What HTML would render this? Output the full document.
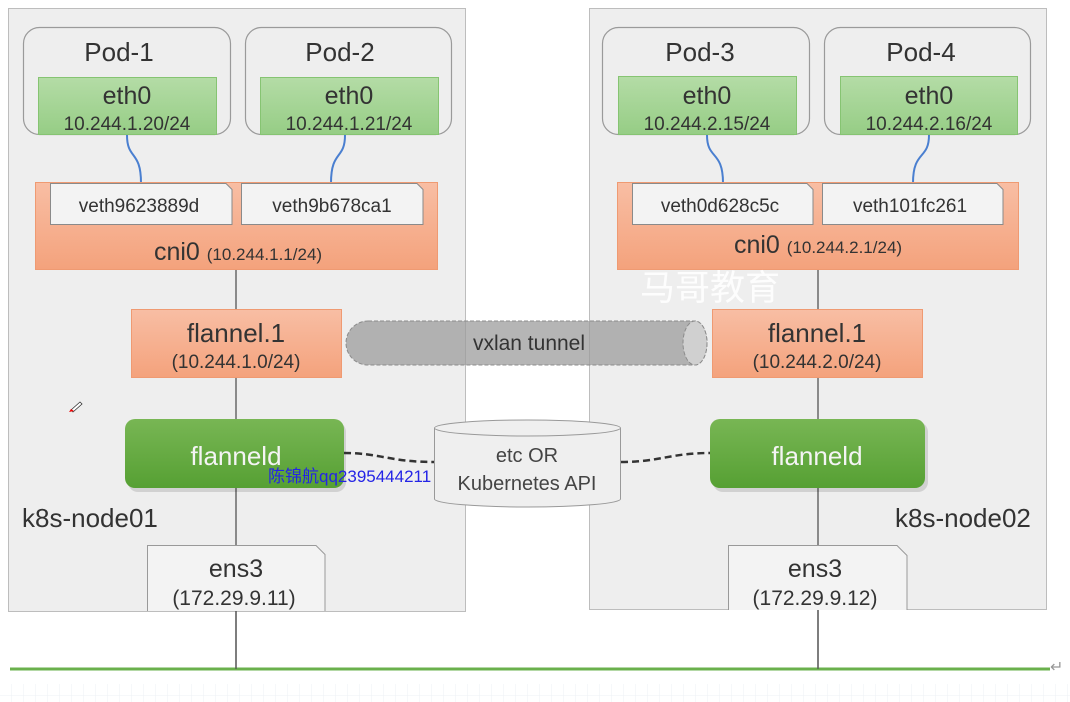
<!DOCTYPE html>
<html><head><meta charset="utf-8"><style>
html,body{margin:0;padding:0;background:#fff;width:1070px;height:702px;overflow:hidden}
svg text{font-family:"Liberation Sans","Noto Sans CJK SC",sans-serif}
</style></head><body>
<svg width="1070" height="702" viewBox="0 0 1070 702" xmlns="http://www.w3.org/2000/svg">
<defs>
<linearGradient id="og" x1="0" y1="0" x2="0" y2="1"><stop offset="0" stop-color="#f8bea4"/><stop offset="1" stop-color="#f4a27c"/></linearGradient>
<linearGradient id="gg" x1="0" y1="0" x2="0" y2="1"><stop offset="0" stop-color="#b4dca6"/><stop offset="1" stop-color="#96cd85"/></linearGradient>
<linearGradient id="fg" x1="0" y1="0" x2="0" y2="1"><stop offset="0" stop-color="#78b654"/><stop offset="1" stop-color="#56a033"/></linearGradient>
<pattern id="grid" width="12" height="12" patternUnits="userSpaceOnUse"><path d="M12 0V12M0 12H12" stroke="#eef0f4" stroke-width="1" fill="none"/></pattern>
</defs>
<rect x="0" y="684" width="1070" height="18" fill="url(#grid)"/>
<rect x="8.5" y="8.5" width="457" height="603" fill="#eeeeee" stroke="#bdbdbd"/>
<rect x="589.5" y="8.5" width="457" height="601" fill="#eeeeee" stroke="#bdbdbd"/>
<line x1="236" y1="270" x2="236" y2="669" stroke="#555" stroke-width="1.3"/>
<line x1="818" y1="270" x2="818" y2="669" stroke="#555" stroke-width="1.3"/>
<line x1="10" y1="669" x2="1050" y2="669" stroke="#6ab04c" stroke-width="3"/>
<text x="1050" y="672" font-size="16" fill="#999">↵</text>
<g fill="none" stroke="#9a9a9a" stroke-width="1.2">
<rect x="23.5" y="27.5" width="207" height="107" rx="16"/>
<rect x="245.5" y="27.5" width="206" height="107" rx="16"/>
<rect x="602.5" y="27.5" width="207" height="107" rx="16"/>
<rect x="824.5" y="27.5" width="206" height="107" rx="16"/>
</g>
<g font-size="26" fill="#333" text-anchor="middle">
<text x="119" y="61">Pod-1</text><text x="340" y="61">Pod-2</text>
<text x="700" y="61">Pod-3</text><text x="921" y="61">Pod-4</text>
</g>
<g fill="url(#gg)" stroke="#86c472">
<rect x="38.5" y="77.5" width="178" height="57"/>
<rect x="260.5" y="77.5" width="178" height="57"/>
<rect x="618.5" y="76.5" width="178" height="58"/>
<rect x="840.5" y="76.5" width="177" height="58"/>
</g>
<g fill="#333" text-anchor="middle">
<text x="127" y="104" font-size="25">eth0</text><text x="127" y="130" font-size="19">10.244.1.20/24</text>
<text x="349" y="104" font-size="25">eth0</text><text x="349" y="130" font-size="19">10.244.1.21/24</text>
<text x="707" y="104" font-size="25">eth0</text><text x="707" y="130" font-size="19">10.244.2.15/24</text>
<text x="929" y="104" font-size="25">eth0</text><text x="929" y="130" font-size="19">10.244.2.16/24</text>
</g>
<g fill="none" stroke="#4a7fd0" stroke-width="2">
<path d="M127 135 C127 160,141 150,141 183"/>
<path d="M345 135 C345 160,331 150,331 183"/>
<path d="M707 135 C707 160,723 150,723 183"/>
<path d="M929 135 C929 160,913 150,913 183"/>
</g>
<rect x="35.5" y="182.5" width="402" height="87" fill="url(#og)" stroke="#ef9a72"/>
<rect x="617.5" y="182.5" width="401" height="87" fill="url(#og)" stroke="#ef9a72"/>
<g fill="#f3f3f3" stroke="#8a8a8a">
<path d="M50.5 183.5H226l6 6V224.5H50.5Z"/>
<path d="M241.5 183.5H417l6 6V224.5H241.5Z"/>
<path d="M632.5 183.5H807l6 6V224.5H632.5Z"/>
<path d="M822.5 183.5H997l6 6V224.5H822.5Z"/>
</g>
<g fill="#333" font-size="19" text-anchor="middle">
<text x="139" y="212">veth9623889d</text><text x="332" y="212">veth9b678ca1</text>
<text x="720" y="212">veth0d628c5c</text><text x="910" y="212">veth101fc261</text>
</g>
<text x="238" y="260" text-anchor="middle" fill="#333"><tspan font-size="25">cni0 </tspan><tspan font-size="17">(10.244.1.1/24)</tspan></text>
<text x="818" y="253" text-anchor="middle" fill="#333"><tspan font-size="25">cni0 </tspan><tspan font-size="17">(10.244.2.1/24)</tspan></text>
<text x="640" y="300" font-size="35" fill="#ffffff" fill-opacity="0.85" font-family="'Noto Sans CJK SC',sans-serif">马哥教育</text>
<rect x="131.5" y="309.5" width="210" height="68" fill="url(#og)" stroke="#ef9a72"/>
<rect x="712.5" y="309.5" width="210" height="68" fill="url(#og)" stroke="#ef9a72"/>
<g fill="#333" text-anchor="middle">
<text x="236" y="342" font-size="26">flannel.1</text><text x="236" y="368" font-size="19">(10.244.1.0/24)</text>
<text x="817" y="342" font-size="26">flannel.1</text><text x="817" y="368" font-size="19">(10.244.2.0/24)</text>
</g>
<path d="M368 321H695A12 22 0 0 1 695 365H368A22 22 0 0 1 368 321Z" fill="#9c9c9c" fill-opacity="0.75" stroke="#8c8c8c" stroke-dasharray="4 2"/>
<ellipse cx="695" cy="343" rx="12" ry="22" fill="#d0d0d0" stroke="#8c8c8c" stroke-dasharray="4 2"/>
<text x="529" y="350" font-size="21" fill="#333" text-anchor="middle">vxlan tunnel</text>
<rect x="128" y="422" width="218" height="70" rx="10" fill="#000" fill-opacity="0.12"/>
<rect x="125" y="419" width="219" height="69" rx="10" fill="url(#fg)"/>
<rect x="713" y="422" width="215" height="70" rx="10" fill="#000" fill-opacity="0.12"/>
<rect x="710" y="419" width="215" height="69" rx="10" fill="url(#fg)"/>
<text x="236" y="465" font-size="26" fill="#f4f4f4" text-anchor="middle">flanneld</text>
<text x="817" y="465" font-size="26" fill="#f4f4f4" text-anchor="middle">flanneld</text>
<path d="M344 453 C380 453,390 462,434 462" fill="none" stroke="#333" stroke-width="2.5" stroke-dasharray="7 4"/>
<path d="M621 462 C660 462,670 453,710 453" fill="none" stroke="#333" stroke-width="2.5" stroke-dasharray="7 4"/>
<path d="M434.5 428V499A93 8 0 0 0 620.5 499V428" fill="#efefef" stroke="#999"/>
<ellipse cx="527.5" cy="428" rx="93" ry="8" fill="#efefef" stroke="#999"/>
<text x="527" y="462" font-size="20" fill="#444" text-anchor="middle">etc OR</text>
<text x="527" y="490" font-size="20" fill="#444" text-anchor="middle">Kubernetes API</text>
<text x="268" y="482" font-size="17" fill="#2424e6">陈锦航qq2395444211</text>
<text x="22" y="527" font-size="26" fill="#333">k8s-node01</text>
<text x="895" y="527" font-size="26" fill="#333">k8s-node02</text>
<path d="M147.5 611V545.5H316l9 9V611" fill="#f3f3f3" stroke="#999"/>
<path d="M728.5 610V545.5H897l10 10V610" fill="#f3f3f3" stroke="#999"/>
<g fill="#333" text-anchor="middle">
<text x="236" y="577" font-size="25">ens3</text><text x="234" y="605" font-size="21">(172.29.9.11)</text>
<text x="815" y="577" font-size="25">ens3</text><text x="815" y="605" font-size="21">(172.29.9.12)</text>
</g>
<line x1="236" y1="611" x2="236" y2="669" stroke="#555" stroke-width="1.3"/>
<line x1="818" y1="610" x2="818" y2="669" stroke="#555" stroke-width="1.3"/>
<path d="M71 410l9-8 2 2-9 8z" fill="#fff" stroke="#333" stroke-width="0.8"/>
<path d="M69 412l2-3 3 2z" fill="#e00"/>
</svg>
</body></html>
